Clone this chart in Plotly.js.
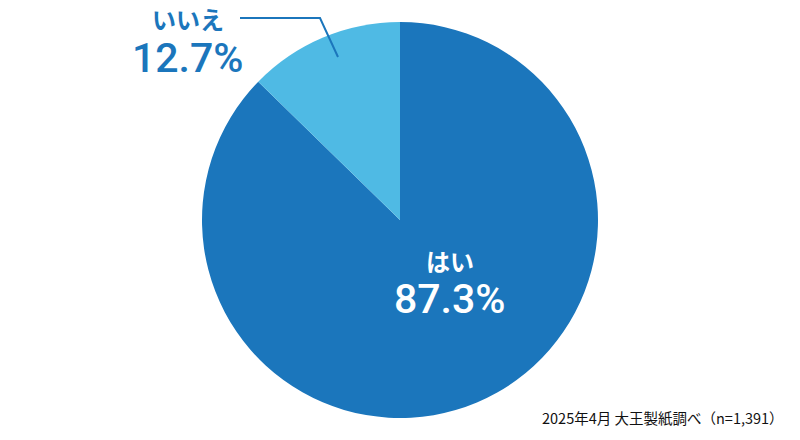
<!DOCTYPE html>
<html>
<head>
<meta charset="utf-8">
<script src="https://cdn.plot.ly/plotly-3.0.1.min.js"></script>
<style>
  html, body { margin: 0; padding: 0; background: #fff; }
  #chart { width: 800px; height: 440px; }
</style>
</head>
<body>
<div id="chart"></div>
<script>
// Survey answers (share of respondents, %)
const answers = ['はい', 'いいえ'];
const shares = [87.3, 12.7];
const sliceColors = ['#1B76BC', '#4FBAE4'];
const sourceNote = '2025年4月 大王製紙調べ（n=1,391）';

const jpFont = 'Roboto, "Noto Sans CJK JP", sans-serif';

const trace = {
    type: 'pie',
    labels: answers,
    values: shares,
    sort: false,
    direction: 'clockwise',
    rotation: 0,
    textinfo: 'none',
    hoverinfo: 'label+percent',
    marker: { colors: sliceColors, line: { width: 0 } },
    domain: { x: [202 / 800, 598 / 800], y: [22 / 440, 418 / 440] },
    showlegend: false
};

// label positions for each slice (paper coords)
const labelSpots = [
    { x: 450 / 800, nameY: 1 - 263 / 440, valY: 1 - 299 / 440, color: '#ffffff' },
    { x: 188 / 800, nameY: 1 - 21 / 440, valY: 1 - 58 / 440, color: '#1B76BC' }
];

const annotations = [];
answers.forEach(function(name, i) {
    const spot = labelSpots[i];
    annotations.push({
        xref: 'paper', yref: 'paper', x: spot.x, y: spot.nameY,
        text: '<b>' + name + '</b>', showarrow: false,
        xanchor: 'center', yanchor: 'middle',
        font: { family: jpFont, size: 24, color: spot.color }
    });
    annotations.push({
        xref: 'paper', yref: 'paper', x: spot.x, y: spot.valY,
        text: shares[i].toFixed(1) + '%', showarrow: false,
        xanchor: 'center', yanchor: 'middle',
        font: { family: jpFont, size: 41, weight: 500, color: spot.color }
    });
});

annotations.push({
    xref: 'paper', yref: 'paper', x: 786 / 800, y: 1 - 417 / 440,
    text: sourceNote, showarrow: false,
    xanchor: 'right', yanchor: 'middle',
    font: { family: '"Noto Sans CJK JP", sans-serif', size: 14.5, weight: 400, color: '#111' }
});

const layout = {
    width: 800,
    height: 440,
    margin: { t: 0, r: 0, b: 0, l: 0 },
    paper_bgcolor: '#fff',
    annotations: annotations,
    shapes: [{
        type: 'path', xref: 'paper', yref: 'paper',
        path: 'M ' + (240 / 800) + ' ' + (1 - 18 / 440) +
              ' L ' + (320 / 800) + ' ' + (1 - 18 / 440) +
              ' L ' + (338 / 800) + ' ' + (1 - 57 / 440),
        line: { color: '#1B76BC', width: 2 }
    }]
};

Plotly.newPlot('chart', [trace], layout, { displayModeBar: false, staticPlot: true });
</script>
</body>
</html>
